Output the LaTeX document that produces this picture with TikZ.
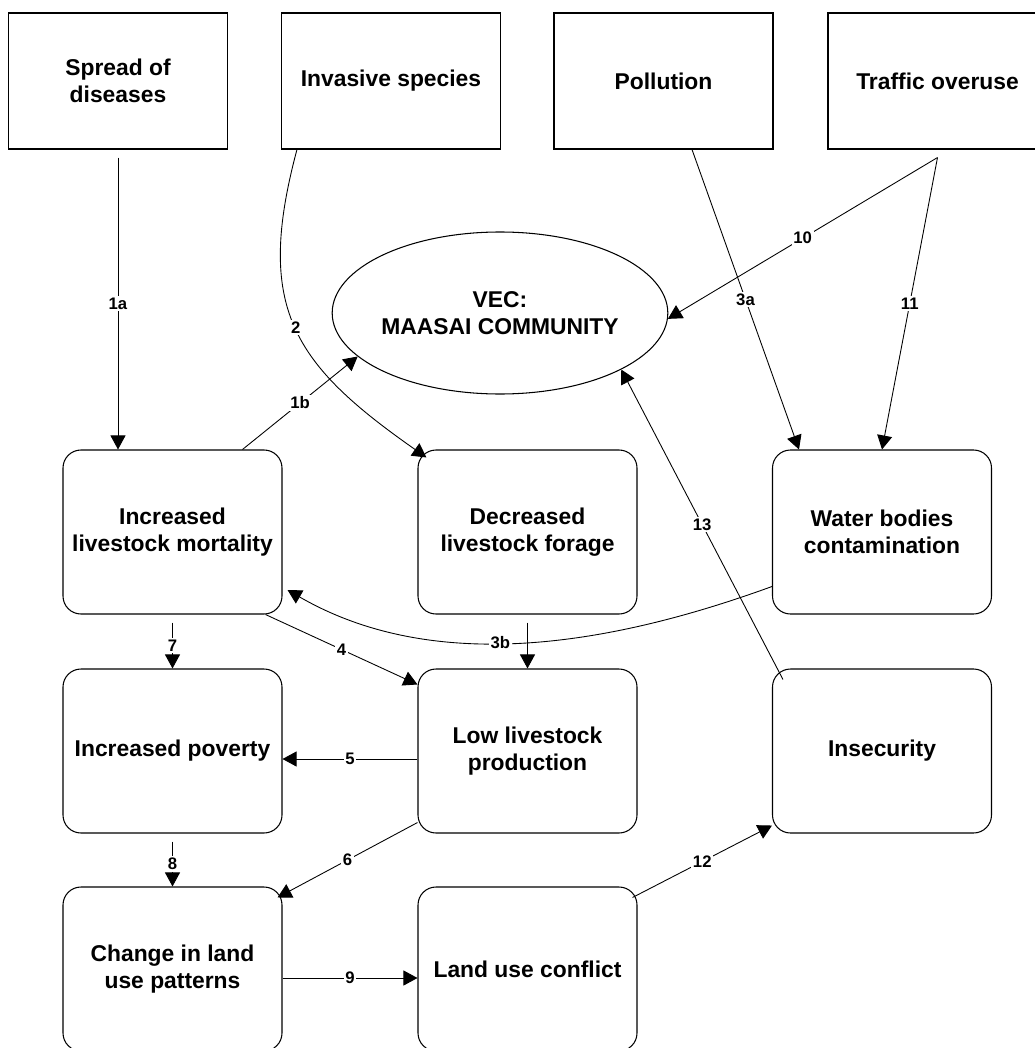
\documentclass[tikz,border=0pt]{standalone}
\usepackage{fontspec}
\setmainfont{Liberation Sans}
\usetikzlibrary{arrows.meta,shapes.geometric}

\begin{document}
\begin{tikzpicture}[x=0.2mm,y=0.2mm,
  cause/.style={draw,line width=0.6pt,minimum width=43.8mm,minimum height=27.2mm,
    inner sep=0pt,align=center,font=\fontsize{13}{15.6}\selectfont\bfseries},
  effect/.style={draw,rounded corners=3.6mm,line width=0.6pt,minimum width=43.8mm,
    minimum height=32.8mm,inner sep=0pt,align=center,font=\fontsize{13}{15.6}\selectfont\bfseries},
  vecnode/.style={ellipse,draw,line width=0.6pt,minimum width=64.4mm,minimum height=32.4mm,
    inner sep=0pt,align=center,font=\fontsize{13}{15.6}\selectfont\bfseries},
  link/.style={line width=0.5pt,-{Triangle[length=2.8mm,width=3mm]}},
  num/.style={fill=white,inner sep=1pt,font=\fontsize{9.5}{11}\selectfont\bfseries}]

  \useasboundingbox (0,0) rectangle (1035,-1048);

  % Sources
  \node[cause] (spread) at (118,-81) {Spread of\\diseases};
  \node[cause] (invasive) at (391,-81) {Invasive species};
  \node[cause] (pollution) at (663.5,-81) {Pollution};
  \node[cause] (traffic) at (937.5,-81) {Traffic overuse};

  % VEC
  \node[vecnode] (vec) at (500,-313) {VEC:\\MAASAI COMMUNITY};

  % Effects
  \node[effect] (mortality) at (172.5,-532) {Increased\\livestock mortality};
  \node[effect] (forage) at (527.5,-532) {Decreased\\livestock forage};
  \node[effect] (water) at (882,-532) {Water bodies\\contamination};
  \node[effect] (poverty) at (172.5,-751) {Increased poverty};
  \node[effect] (lowprod) at (527.5,-751) {Low livestock\\production};
  \node[effect] (insecurity) at (882,-751) {Insecurity};
  \node[effect] (landchange) at (172.5,-969) {Change in land\\use patterns};
  \node[effect] (conflict) at (527.5,-969) {Land use conflict};

  % Links from the sources
  \draw[link] ([yshift=-1.6mm]spread.south) -- node[num]{1a} (mortality.north -| spread.south);
  \draw[link] ([xshift=3.2mm]invasive.south west) to[out=-105,in=145,looseness=1.25]
    node[num]{2} ([shift={(1.8mm,-1.6mm)}]forage.north west);
  \draw[link] ([xshift=5.7mm]pollution.south) -- node[num]{3a} ([xshift=-16.6mm]water.north);
  \draw[link] ([yshift=-1.6mm]traffic.south) -- node[num]{10} (vec.-2);
  \draw[link] ([yshift=-1.6mm]traffic.south) -- node[num]{11} (water.north);

  % Links between effects
  \draw[link] ([xshift=14mm]mortality.north) -- node[num]{1b} (vec.197);
  \draw[link] ([yshift=-10.9mm]water.west) to[out=200,in=-30,looseness=0.9]
    node[num,pos=.55]{3b} ([shift={(1mm,-11.6mm)}]mortality.east);
  \draw[link] ([yshift=-1.6mm]forage.south) -- (lowprod.north);
  \draw[link] ([xshift=-3.4mm]mortality.south east) -- node[num]{4} ([yshift=-3.2mm]lowprod.north west);
  \draw[link] ([yshift=-1.6mm]lowprod.west) -- node[num]{5} ([yshift=-1.6mm]poverty.east);
  \draw[link] ([yshift=2.2mm]lowprod.south west) -- node[num]{6} ([shift={(-1mm,-2.2mm)}]landchange.north east);
  \draw[link] ([yshift=-1.6mm]mortality.south) -- node[num]{7} (poverty.north);
  \draw[link] ([yshift=-1.6mm]poverty.south) -- node[num]{8} (landchange.north);
  \draw[link] ([yshift=-1.8mm]landchange.east) -- node[num]{9} ([yshift=-1.8mm]conflict.west);
  \draw[link] ([shift={(-1mm,-2.2mm)}]conflict.north east) -- node[num]{12} ([yshift=1.6mm]insecurity.south west);
  \draw[link] ([shift={(2.2mm,-2.2mm)}]insecurity.north west) -- node[num]{13} (vec.-25);
\end{tikzpicture}
\end{document}
